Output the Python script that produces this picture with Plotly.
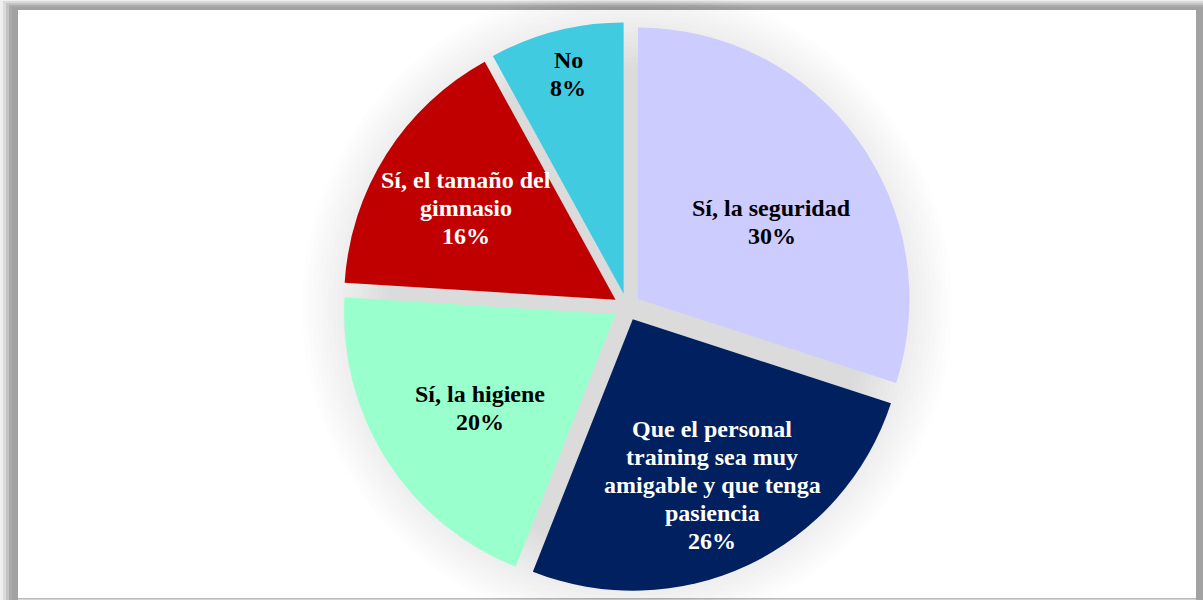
import math
import plotly.graph_objects as go

# Survey answers (clockwise from 12 o'clock)
categorias = [
    "Sí, la seguridad",
    "Que el personal<br>training sea muy<br>amigable y que tenga<br>pasiencia",
    "Sí, la higiene",
    "Sí, el tamaño del<br>gimnasio",
    "No",
]
porcentajes = [30, 26, 20, 16, 8]
colores = ["#CCCCFF", "#002060", "#99FFCC", "#C00000", "#41CBE0"]
colores_texto = ["#000000", "#FFFFFF", "#000000", "#FFFFFF", "#000000"]

# Label placement: distance from the pie centre (px) and angular nudge (deg)
radio_etiqueta = [168, 197, 178, 189, 240]
giro_etiqueta = [5.6, -0.5, -2.1, -0.8, 0.2]

W, H = 1203, 600
CX, CY = 627, 307          # pie centre, pixels from top-left
HALF = 285                 # half of the pie domain height, pixels
PULL = 0.05
FUENTE = "Liberation Serif, Times New Roman, serif"
TAM = 24
INTERLINEA = 28


def px_x(x):
    return x / W


def px_y(y):
    return 1 - y / H


fig = go.Figure()

fig.add_trace(go.Pie(
    labels=categorias,
    values=porcentajes,
    sort=False,
    direction="clockwise",
    rotation=0,
    pull=[PULL] * len(porcentajes),
    marker=dict(colors=colores, line=dict(width=0)),
    textinfo="none",
    hoverinfo="label+percent",
    showlegend=False,
    domain=dict(x=[px_x(CX - 300), px_x(CX + 300)],
                y=[px_y(CY + HALF), px_y(CY - HALF)]),
))

# Slice labels, centred on each slice's bisector
annotations = []
total = sum(porcentajes)
acumulado = 0
for cat, val, col, rad, giro in zip(categorias, porcentajes, colores_texto,
                                    radio_etiqueta, giro_etiqueta):
    ang = math.radians((acumulado + val / 2) / total * 360 + giro)
    acumulado += val
    x = CX + rad * math.sin(ang)
    y = CY - rad * math.cos(ang)
    lineas = cat.split("<br>") + [f"{val}%"]
    n = len(lineas)
    for i, linea in enumerate(lineas):
        annotations.append(dict(
            x=px_x(x), y=px_y(y), xref="paper", yref="paper",
            text=f"<b>{linea}</b>", showarrow=False,
            xanchor="center", yanchor="middle",
            yshift=-(i - (n - 1) / 2) * INTERLINEA,
            font=dict(family=FUENTE, size=TAM, color=col),
        ))

shapes = []

# Frame drop shadow (darkening towards the panel edge)
for off_x, off_y, col in [(0, 0, "#EFEFEF"), (3, 1, "#DADADA"),
                          (6, 3, "#C2C2C2"), (9, 5, "#ABABAB"),
                          (12, 7, "#A2A2A2")]:
    shapes.append(dict(type="rect", xref="paper", yref="paper",
                       x0=px_x(off_x), x1=1, y0=0, y1=px_y(off_y),
                       fillcolor=col, line=dict(width=0), layer="below"))
# White chart panel
shapes.append(dict(type="rect", xref="paper", yref="paper",
                   x0=px_x(18), x1=px_x(1196), y0=px_y(598), y1=px_y(10),
                   fillcolor="#FFFFFF", line=dict(width=0), layer="below"))
shapes.append(dict(type="rect", xref="paper", yref="paper",
                   x0=px_x(18), x1=px_x(1196), y0=0, y1=px_y(598.5),
                   fillcolor="#D4D4D4", line=dict(width=0), layer="below"))

# Soft shadow behind the exploded pie
R = 325
while R >= 240:
    shapes.append(dict(type="circle", xref="paper", yref="paper",
                       x0=px_x(CX - R), x1=px_x(CX + R),
                       y0=px_y(CY + R), y1=px_y(CY - R),
                       fillcolor="rgba(0,0,0,0.009)", line=dict(width=0),
                       layer="below"))
    R -= 5

fig.update_layout(
    width=W, height=H,
    margin=dict(l=0, r=0, t=0, b=0),
    paper_bgcolor="#FFFFFF",
    plot_bgcolor="#FFFFFF",
    shapes=shapes,
    annotations=annotations,
)

fig.write_html("out.html")
